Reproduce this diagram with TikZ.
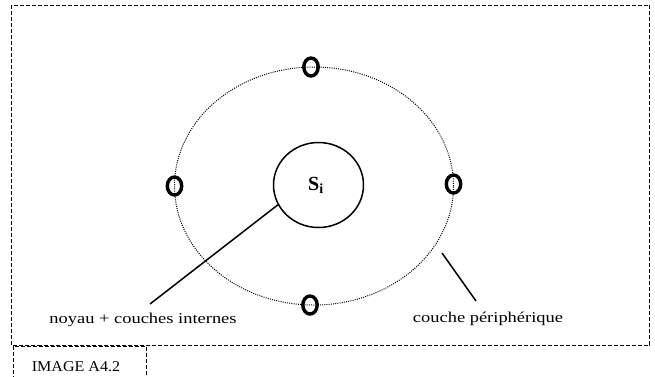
\documentclass[tikz,border=0pt]{standalone}
\usepackage{fontspec}
\setmainfont{Liberation Serif}
\usetikzlibrary{shapes.geometric}
\tikzset{
  frame/.style={draw, line width=0.8pt, dash pattern=on 4pt off 2pt},
  orbit/.style={ellipse, draw, line width=1pt, dash pattern=on 1pt off 1.2pt, inner sep=0pt},
  core/.style={ellipse, draw, line width=1.5pt, inner sep=0pt, minimum width=90pt, minimum height=85pt},
  electron/.style={line width=3.4pt},
  leader/.style={draw, line width=1.5pt},
  label/.style={anchor=base, inner sep=0pt, font=\fontsize{15}{18}\selectfont}
}
\begin{document}
\begin{tikzpicture}[x=1pt, y=-1pt]
\useasboundingbox (0,0) rectangle (655,376);
% frames
\draw[frame] (11.5,5) rectangle (649.5,345);
\draw[frame] (13,380) -- (13,346) -- (146,346) -- (146,380);
% orbit and electrons
\node[orbit, minimum width=279pt, minimum height=238pt] (orb) at (314,186) {};
\coordinate (e1) at (311,67);
\coordinate (e2) at (310,305);
\coordinate (e3) at (174.5,186);
\coordinate (e4) at (453.5,184);
\foreach \e in {e1,e2,e3,e4}
  \draw[electron] (\e) ellipse [x radius=7.2pt, y radius=9pt];
% core
\node[core] (nuc) at (318.5,185) {};
\node (sym) at (316,185) {\fontsize{20}{22}\selectfont\bfseries S\textsubscript{i}};
% labels
\node[label] (lab1) at (143,323) {\scalebox{1.23}[1]{noyau + couches internes}};
\node[label] (lab2) at (488,322) {\scalebox{1.23}[1]{couche périphérique}};
\node[label] (lab3) at (76,371.5) {\scalebox{1.07}[1]{IMAGE A4.2}};
% leaders
\coordinate (l1end) at (150,304);
\coordinate (l2start) at (442,253);
\coordinate (l2end) at (476,301);
\draw[leader] (nuc.206) -- (l1end);
\draw[leader] (l2start) -- (l2end);
\end{tikzpicture}
\end{document}
